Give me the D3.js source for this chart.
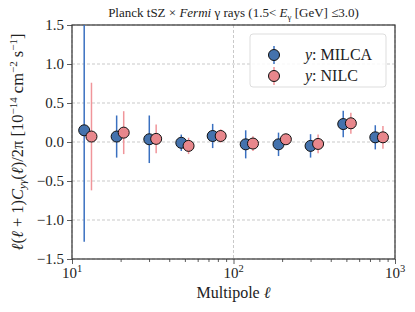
<!DOCTYPE html>
<html>
<head>
<meta charset="utf-8">
<script src="https://cdn.jsdelivr.net/npm/d3@7"></script>
<style>
  body { margin: 0; background: #fff; }
  text { font-family: "Liberation Serif", "DejaVu Serif", serif; fill: #222; }
</style>
</head>
<body>
<div id="chart"></div>
<script>
// multipole bin centres (each series is shifted a bit in ell)
var ellMilca = [11.9, 18.9, 30.1, 47.5, 74.3, 119, 190, 300, 478, 755];
var ellNilc  = [13.2, 20.9, 33.2, 52.7, 83.3, 132, 211, 334, 533, 842];
var valMilca = [0.15, 0.07, 0.035, -0.01, 0.077, -0.03, -0.03, -0.05, 0.23, 0.06];
var errMilca = [1.43, 0.27, 0.305, 0.105, 0.155, 0.18, 0.15, 0.15, 0.17, 0.155];
var valNilc  = [0.07, 0.12, 0.04, -0.05, 0.077, -0.02, 0.035, -0.025, 0.24, 0.06];
var errNilc  = [0.69, 0.275, 0.185, 0.105, 0.085, 0.095, 0.07, 0.12, 0.135, 0.145];
var yTicks = [-1.5, -1.0, -0.5, 0.0, 0.5, 1.0, 1.5];
var xTicks = [10, 100, 1000];

var W = 415, H = 312,
    m = {left: 72, right: 20, top: 25, bottom: 53};

var svg = d3.select('#chart').append('svg')
  .attr('width', W).attr('height', H);

var x = d3.scaleLog().domain([10, 1000]).range([m.left, W - m.right]);
var y = d3.scaleLinear().domain([-1.5, 1.5]).range([H - m.bottom, m.top]);

svg.append('clipPath').attr('id', 'plotclip')
  .append('rect')
  .attr('x', m.left).attr('y', m.top)
  .attr('width', W - m.left - m.right).attr('height', H - m.top - m.bottom);

// grid
var grid = svg.append('g').attr('stroke', '#bbb').attr('stroke-width', 0.8)
  .attr('stroke-dasharray', '3,2');
grid.selectAll('.gy').data(yTicks).enter().append('line')
  .attr('x1', m.left).attr('x2', W - m.right)
  .attr('y1', function (d) { return y(d); }).attr('y2', function (d) { return y(d); });
grid.selectAll('.gx').data(xTicks).enter().append('line')
  .attr('y1', m.top).attr('y2', H - m.bottom)
  .attr('x1', function (d) { return x(d); }).attr('x2', function (d) { return x(d); });

// axes
var xMinor = [];
[10, 100].forEach(function (b) { for (var k = 2; k < 10; k++) xMinor.push(b * k); });

svg.append('g').attr('transform', 'translate(0,' + (H - m.bottom) + ')')
  .call(d3.axisBottom(x).tickValues(xTicks).tickSize(5).tickFormat(''));
svg.append('g').attr('transform', 'translate(0,' + (H - m.bottom) + ')')
  .call(d3.axisBottom(x).tickValues(xMinor).tickSize(3).tickFormat(''));
svg.append('g').attr('transform', 'translate(' + m.left + ',0)')
  .call(d3.axisLeft(y).tickValues(yTicks).tickSize(5).tickFormat(''));
svg.selectAll('.domain').remove();
svg.selectAll('.tick line').attr('stroke', '#333').attr('stroke-width', 0.8);

// tick labels
xTicks.forEach(function (d) {
  var t = svg.append('text').attr('x', x(d)).attr('y', H - m.bottom + 19)
    .attr('text-anchor', 'middle').style('font-size', '15px');
  t.append('tspan').text('10');
  t.append('tspan').attr('dy', -6).style('font-size', '10.5px').text(Math.log10(d));
});
yTicks.forEach(function (d) {
  svg.append('text').attr('x', m.left - 8).attr('y', y(d) + 5)
    .attr('text-anchor', 'end').style('font-size', '15px')
    .text(d < 0 ? '\u2212' + Math.abs(d).toFixed(1) : d.toFixed(1));
});

// frame
svg.append('rect').attr('x', m.left).attr('y', m.top)
  .attr('width', W - m.left - m.right).attr('height', H - m.top - m.bottom)
  .attr('fill', 'none').attr('stroke', '#333').attr('stroke-width', 1.2);

// data
function series(ells, vals, errs, lineCol, fillCol) {
  var g = svg.append('g').attr('clip-path', 'url(#plotclip)');
  g.selectAll('line').data(vals).enter().append('line')
    .attr('x1', function (d, i) { return x(ells[i]); })
    .attr('x2', function (d, i) { return x(ells[i]); })
    .attr('y1', function (d, i) { return y(d - errs[i]); })
    .attr('y2', function (d, i) { return y(d + errs[i]); })
    .attr('stroke', lineCol).attr('stroke-width', 1.5);
  g.selectAll('circle').data(vals).enter().append('circle')
    .attr('cx', function (d, i) { return x(ells[i]); })
    .attr('cy', function (d) { return y(d); })
    .attr('r', 5.5)
    .attr('fill', fillCol).attr('stroke', '#111').attr('stroke-width', 1);
}
series(ellMilca, valMilca, errMilca, '#3a70c0', '#4472ad');
series(ellNilc, valNilc, errNilc, '#f0959a', '#e8878c');

// legend
var lg = svg.append('g');
lg.append('rect').attr('x', 250).attr('y', 34).attr('width', 136).attr('height', 53)
  .attr('rx', 3).attr('fill', '#fff').attr('fill-opacity', 0.85)
  .attr('stroke', '#ddd').attr('stroke-width', 1);
[['MILCA', '#3a70c0', '#4472ad', 55], ['NILC', '#f0959a', '#e8878c', 76]].forEach(function (e) {
  lg.append('line').attr('x1', 274).attr('x2', 274).attr('y1', e[3] - 9).attr('y2', e[3] + 9)
    .attr('stroke', e[1]).attr('stroke-width', 1.5);
  lg.append('circle').attr('cx', 274).attr('cy', e[3]).attr('r', 5.5)
    .attr('fill', e[2]).attr('stroke', '#111').attr('stroke-width', 1);
  var t = lg.append('text').attr('x', 305).attr('y', e[3] + 5).style('font-size', '16px');
  t.append('tspan').style('font-style', 'italic').text('y');
  t.append('tspan').text(': ' + e[0]);
});

// title
var title = svg.append('text').attr('x', (m.left + W - m.right) / 2).attr('y', 17)
  .attr('text-anchor', 'middle').style('font-size', '13px');
title.append('tspan').text('Planck tSZ \u00d7 ');
title.append('tspan').style('font-style', 'italic').text('Fermi');
title.append('tspan').text(' \u03b3 rays (1.5< ');
title.append('tspan').style('font-style', 'italic').text('E');
title.append('tspan').attr('dy', 3).style('font-size', '9px').text('\u03b3');
title.append('tspan').attr('dy', -3).text(' [GeV] \u22643.0)');

// x label
var xl = svg.append('text').attr('x', (m.left + W - m.right) / 2).attr('y', 298)
  .attr('text-anchor', 'middle').style('font-size', '16px');
xl.append('tspan').text('Multipole ');
xl.append('tspan').style('font-style', 'italic').text('\u2113');

// y label
var yl = svg.append('text').attr('transform', 'translate(23,' + ((m.top + H - m.bottom) / 2) + ') rotate(-90)')
  .attr('text-anchor', 'middle').style('font-size', '16.5px');
yl.append('tspan').style('font-style', 'italic').text('\u2113');
yl.append('tspan').text('(');
yl.append('tspan').style('font-style', 'italic').text('\u2113');
yl.append('tspan').text(' + 1)');
yl.append('tspan').style('font-style', 'italic').text('C');
yl.append('tspan').attr('dy', 3).style('font-size', '11px').style('font-style', 'italic').text('y\u03b3');
yl.append('tspan').attr('dy', -3).text('(');
yl.append('tspan').style('font-style', 'italic').text('\u2113');
yl.append('tspan').text(')/2\u03c0 [10');
yl.append('tspan').attr('dy', -6).style('font-size', '11px').text('\u221214');
yl.append('tspan').attr('dy', 6).text(' cm');
yl.append('tspan').attr('dy', -6).style('font-size', '11px').text('\u22122');
yl.append('tspan').attr('dy', 6).text(' s');
yl.append('tspan').attr('dy', -6).style('font-size', '11px').text('\u22121');
yl.append('tspan').attr('dy', 6).text(']');
</script>
</body>
</html>
